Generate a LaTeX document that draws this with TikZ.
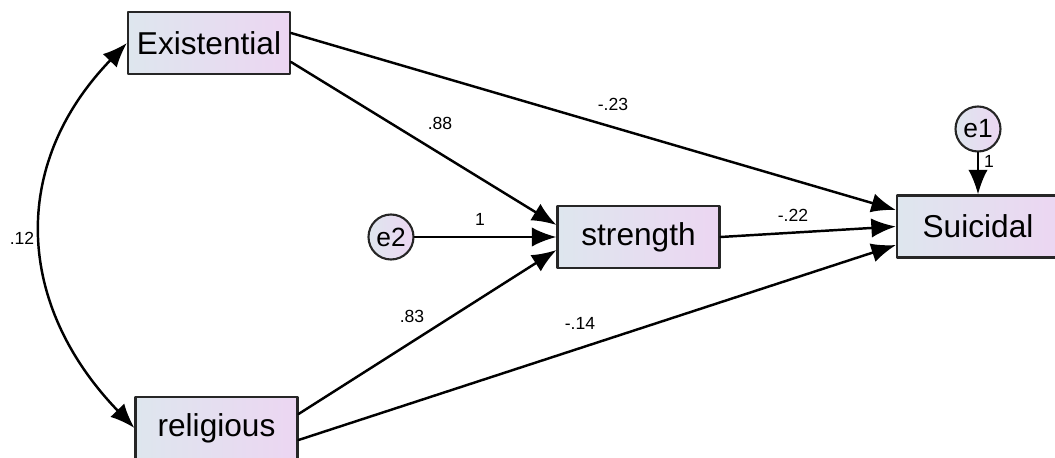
\documentclass[tikz,border=0pt]{standalone}
\usepackage{fontspec}
\setmainfont{Liberation Sans}
\usetikzlibrary{arrows.meta}

\definecolor{fillleft}{RGB}{222,230,238}
\definecolor{fillright}{RGB}{236,214,242}

\tikzset{
  obsbox/.style={draw=black!85,line width=1.2pt,left color=fillleft,right color=fillright,
    minimum width=3.24cm,minimum height=1.24cm,inner sep=0pt,font=\fontsize{18}{20}\selectfont},
  errcirc/.style={circle,draw=black!85,line width=1.2pt,left color=fillleft,right color=fillright,
    minimum size=0.9cm,inner sep=0pt,font=\fontsize{15}{17}\selectfont},
  path/.style={line width=1.4pt,-{Latex[length=14pt,width=11pt]}},
  lbl/.style={inner sep=0pt,font=\fontsize{10}{12}\selectfont}
}

\begin{document}
\begin{tikzpicture}[x=0.02cm,y=0.02cm,line cap=round,line join=round]
\useasboundingbox (0,0) rectangle (1055,457);
% boxes
\node[obsbox] (exist) at (209,414) {Existential};
\node[obsbox] (relig) at (216.5,29) {religious};
\node[obsbox] (strength) at (638.5,220) {strength};
\node[obsbox] (suicidal) at (978,230.5) {Suicidal};
\node[errcirc] (e2) at (391,220) {e2};
\node[errcirc] (e1) at (978,328) {e1};
% paths
\draw[path] ([yshift=0.2cm]exist.east) -- ([yshift=0.33cm]suicidal.west);
\draw[path] ([yshift=-0.38cm]exist.east) -- ([yshift=0.24cm]strength.west);
\draw[path] (e2.east) -- (strength.west);
\draw[path] ([yshift=0.28cm]relig.east) -- ([yshift=-0.26cm]strength.west);
\draw[path] ([yshift=-0.24cm]relig.east) -- ([yshift=-0.37cm]suicidal.west);
\draw[path] (strength.east) -- (suicidal.west);
\draw[path] (e1.south) -- (suicidal.north);
\draw[line width=1.4pt,{Latex[length=14pt,width=11pt]}-{Latex[length=14pt,width=11pt]}]
  (exist.west) to[out=226,in=134,looseness=1.13] (relig.west);
% weights
\node[lbl] (w88) at (440,334) {.88};
\node[lbl] (w23) at (613,353) {-.23};
\node[lbl] (w1b) at (480,238) {1};
\node[lbl] (w22) at (793,242) {-.22};
\node[lbl] (w83) at (412,141) {.83};
\node[lbl] (w14) at (580,134) {-.14};
\node[lbl] (w12) at (22,219) {.12};
\node[lbl] (w1a) at (989,296) {1};
\end{tikzpicture}
\end{document}
